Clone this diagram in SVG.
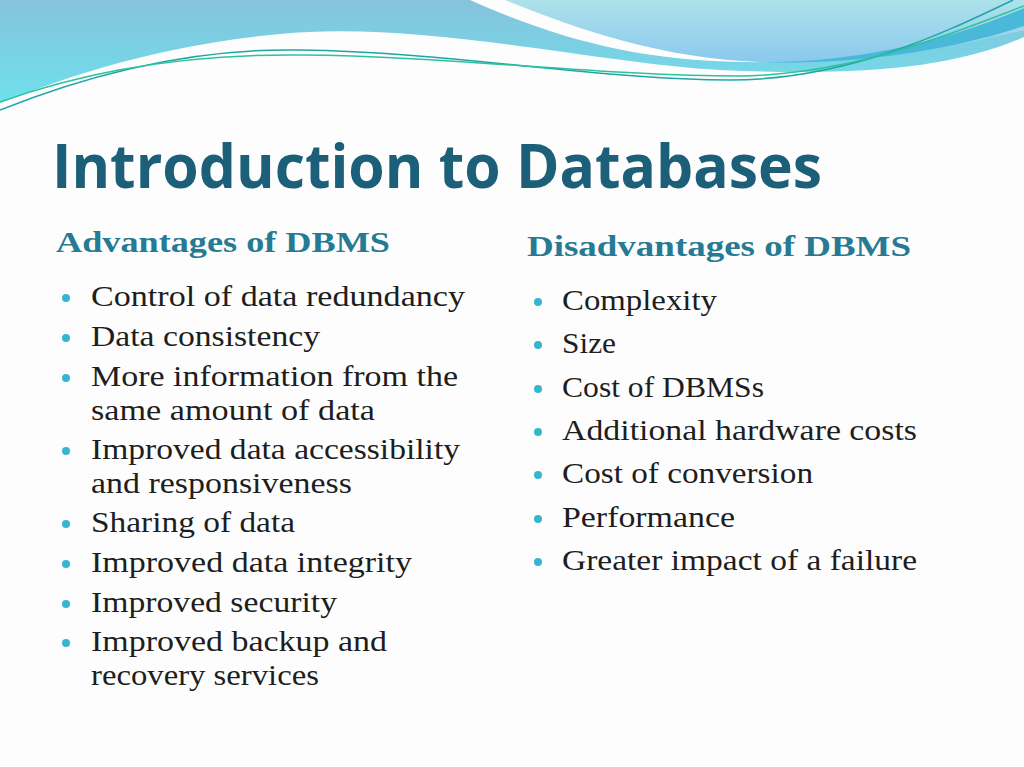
<svg xmlns="http://www.w3.org/2000/svg" width="1024" height="767" viewBox="0 0 1024 767">
<style>
.t{font-family:"Liberation Serif",serif;font-size:29px;fill:#1e1e1e}
.h{font-family:"Liberation Serif",serif;font-size:29px;font-weight:bold;fill:#267a94}
.b{fill:#35b6cf}
</style>
<defs>
<linearGradient id="g1" x1="0" y1="0" x2="0" y2="1"><stop offset="0" stop-color="#86c3dc"/><stop offset="1" stop-color="#6ee0ec"/></linearGradient>
<linearGradient id="g2" x1="0" y1="0" x2="0" y2="1"><stop offset="0" stop-color="#ade2ea"/><stop offset="1" stop-color="#8ac8ee"/></linearGradient>
</defs>
<rect width="1024" height="767" fill="#fdfdfd"/>
<g id="waves">
<path d="M0,0 H470 C560,40 640,60 740,62 C850,64 950,45 1024,30 V37 C950,70 850,76 720,70 C600,64 420,20 280,34 C150,46 60,80 0,103 Z" fill="url(#g1)"/>
<path d="M505,0 H1024 V30 C950,48 860,66 760,62 C660,58 580,30 505,0 Z" fill="url(#g2)"/>
<path d="M740,62 C850,66 950,40 1024,8 V26 C950,50 860,66 740,62 Z" fill="#4ab8d8"/>
<path d="M0,110 C100,70 200,48 300,50 C450,52 600,80 730,80 C850,80 950,30 1013,0" fill="none" stroke="#1fa5a8" stroke-width="1.5"/>
<path d="M0,102 C100,66 200,54 300,55 C450,56 600,76 740,76 C860,74 960,30 1024,6" fill="none" stroke="#2cc39a" stroke-width="1.5"/>
</g>
<text x="52" y="188" font-family="Open Sans, Liberation Sans, sans-serif" font-weight="bold" font-size="60" fill="#1b5f79" textLength="770" lengthAdjust="spacingAndGlyphs">Introduction to Databases</text>
<g id="adv">
<text class="h" x="56" y="252" textLength="334" lengthAdjust="spacingAndGlyphs">Advantages of DBMS</text>
<g class="b"><circle cx="66" cy="298" r="4"/><circle cx="66" cy="338" r="4"/><circle cx="66" cy="378" r="4"/><circle cx="66" cy="451" r="4"/><circle cx="66" cy="524" r="4"/><circle cx="66" cy="564" r="4"/><circle cx="66" cy="604" r="4"/><circle cx="66" cy="643" r="4"/></g>
<text class="t" x="91" y="306" textLength="374" lengthAdjust="spacingAndGlyphs">Control of data redundancy</text>
<text class="t" x="91" y="346" textLength="229" lengthAdjust="spacingAndGlyphs">Data consistency</text>
<text class="t" x="91" y="386" textLength="367" lengthAdjust="spacingAndGlyphs">More information from the</text>
<text class="t" x="91" y="420" textLength="284" lengthAdjust="spacingAndGlyphs">same amount of data</text>
<text class="t" x="91" y="459" textLength="369" lengthAdjust="spacingAndGlyphs">Improved data accessibility</text>
<text class="t" x="91" y="493" textLength="261" lengthAdjust="spacingAndGlyphs">and responsiveness</text>
<text class="t" x="91" y="532" textLength="204" lengthAdjust="spacingAndGlyphs">Sharing of data</text>
<text class="t" x="91" y="572" textLength="321" lengthAdjust="spacingAndGlyphs">Improved data integrity</text>
<text class="t" x="91" y="612" textLength="246" lengthAdjust="spacingAndGlyphs">Improved security</text>
<text class="t" x="91" y="651" textLength="296" lengthAdjust="spacingAndGlyphs">Improved backup and</text>
<text class="t" x="91" y="685" textLength="228" lengthAdjust="spacingAndGlyphs">recovery services</text>
</g>
<g id="dis">
<text class="h" x="527" y="256" textLength="384" lengthAdjust="spacingAndGlyphs">Disadvantages of DBMS</text>
<g class="b"><circle cx="538" cy="302" r="4"/><circle cx="538" cy="345" r="4"/><circle cx="538" cy="389" r="4"/><circle cx="538" cy="432" r="4"/><circle cx="538" cy="475" r="4"/><circle cx="538" cy="519" r="4"/><circle cx="538" cy="562" r="4"/></g>
<text class="t" x="562" y="310" textLength="155" lengthAdjust="spacingAndGlyphs">Complexity</text>
<text class="t" x="562" y="353" textLength="54" lengthAdjust="spacingAndGlyphs">Size</text>
<text class="t" x="562" y="397" textLength="202" lengthAdjust="spacingAndGlyphs">Cost of DBMSs</text>
<text class="t" x="562" y="440" textLength="355" lengthAdjust="spacingAndGlyphs">Additional hardware costs</text>
<text class="t" x="562" y="483" textLength="251" lengthAdjust="spacingAndGlyphs">Cost of conversion</text>
<text class="t" x="562" y="527" textLength="173" lengthAdjust="spacingAndGlyphs">Performance</text>
<text class="t" x="562" y="570" textLength="355" lengthAdjust="spacingAndGlyphs">Greater impact of a failure</text>
</g>
</svg>
